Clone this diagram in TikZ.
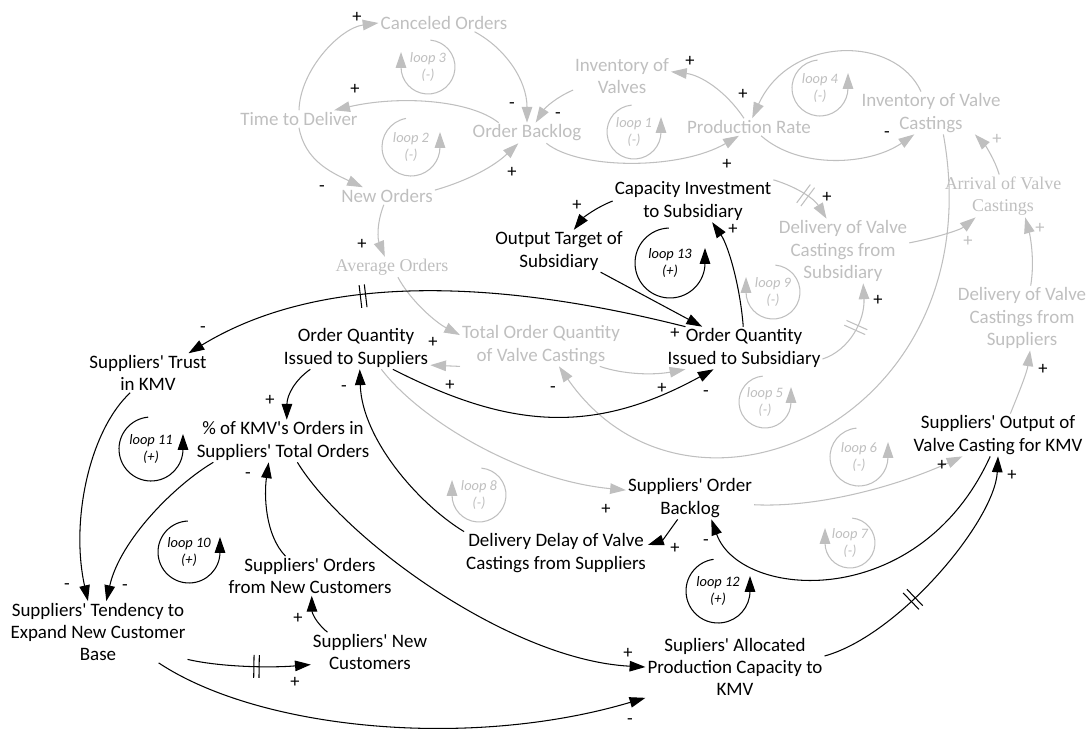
\documentclass[tikz,border=0pt]{standalone}
\usepackage{fontspec}
\usetikzlibrary{arrows.meta}
\newfontfamily\varfont{Carlito}[Ligatures=TeXOff]
\newfontfamily\serfont{Liberation Serif}[Ligatures=TeXOff]
\definecolor{cldgray}{RGB}{191,191,191}

\tikzset{
    var/.style={align=center, inner sep=1pt, font=\varfont\fontsize{10.8}{12.6}\selectfont},
    gvar/.style={var, text=cldgray},
    gsvar/.style={gvar, font=\serfont\fontsize{10.2}{12.6}\selectfont},
    sgn/.style={inner sep=0pt, font=\varfont\fontsize{10.5}{11}\selectfont},
    gsgn/.style={sgn, text=cldgray},
    looptxt/.style={align=center, inner sep=0pt, font=\varfont\itshape\fontsize{8.2}{9.5}\selectfont},
    glooptxt/.style={looptxt, text=cldgray},
    barrow/.style={draw=black, line width=0.6pt, -{Triangle[length=9pt,width=6pt]}},
    garrow/.style={barrow, draw=cldgray},
    %double bar on delayed links
    delaymark/.pic={\draw[-, line width=0.6pt] (-1.5pt,-6.5pt) -- (-1.5pt,6.5pt) (1.5pt,-6.5pt) -- (1.5pt,6.5pt);},
  }

\begin{document}
\begin{tikzpicture}[x=0.02cm, y=-0.02cm]
\useasboundingbox (0,0) rectangle (1091,729);

% plant side (grey)
  \node[gvar] (cancel) at (444,23) {Canceled Orders};
  \node[gvar] (ttd) at (299,119) {Time to Deliver};
  \node[gvar] (neworders) at (387,196) {New Orders};
  \node[gvar] (backlog) at (527,133) {Order Backlog};
  \node[gvar] (invvalves) at (622,76) {Inventory of\\Valves};
  \node[gvar] (prodrate) at (749,127) {Production Rate};
  \node[gvar] (invcast) at (931,113) {Inventory of Valve\\Castings};
  \node[gsvar] (arrival) at (1003,196) {Arrival of Valve\\Castings};
  \node[gvar] (delsub) at (843,251) {Delivery of Valve\\Castings from\\Subsidiary};
  \node[gvar] (delsup) at (1022,318) {Delivery of Valve\\Castings from\\Suppliers};
  \node[gsvar] (avgorders) at (392,267) {Average Orders};
  \node[gvar] (totalq) at (541,345) {Total Order Quantity\\of Valve Castings};

% subsidiary and suppliers (black)
  \node[var] (capinv) at (693,201) {Capacity Investment\\to Subsidiary};
  \node[var] (target) at (559,251) {Output Target of\\Subsidiary};
  \node[var] (oqsub) at (744,348) {Order Quantity\\Issued to Subsidiary};
  \node[var] (oqsup) at (356,348) {Order Quantity\\Issued to Suppliers};
  \node[var] (trust) at (148,373) {Suppliers' Trust\\in KMV};
  \node[var] (share) at (283,441) {\% of KMV's Orders in\\Suppliers' Total Orders};
  \node[var] (tendency) at (98,632) {Suppliers' Tendency to\\Expand New Customer\\Base};
  \node[var] (ordnew) at (310,576) {Suppliers' Orders\\from New Customers};
  \node[var] (newcust) at (370,652) {Suppliers' New\\Customers};
  \node[var] (delay) at (556,553) {Delivery Delay of Valve\\Castings from Suppliers};
  \node[var] (supbacklog) at (690,498) {Suppliers' Order\\Backlog};
  \node[var] (supout) at (998,435) {Suppliers' Output of\\Valve Casting for KMV};
  \node[var] (alloc) at (735,667) {Supliers' Allocated\\Production Capacity to\\KMV};

% grey links
  \draw[garrow] (ttd.north) .. controls (300,70) and (340,28) .. (cancel.west);
  \draw[garrow] (backlog.160) .. controls (470,100) and (400,95) .. (ttd.14);
  \draw[garrow] (ttd.south) .. controls (305,160) and (330,172) .. (neworders.160);
  \draw[garrow] (neworders.7) .. controls (460,183) and (490,170) .. (backlog.230);
  \draw[garrow] (cancel.-16) .. controls (505,48) and (527,80) .. (backlog.north);
  \draw[garrow] (invvalves.196) .. controls (555,98) and (545,108) .. (backlog.50);
  \draw[garrow] (backlog.-28) .. controls (580,170) and (680,170) .. (prodrate.221);
  \draw[garrow] (prodrate.120) .. controls (725,90) and (700,75) .. (invvalves.5);
  \draw[garrow] (invcast.115) .. controls (895,35) and (790,35) .. (prodrate.70);
  \draw[garrow] (prodrate.-36) .. controls (800,170) and (870,165) .. (invcast.232);
  \draw[garrow] (arrival.100) .. controls (995,160) and (985,145) .. (invcast.-26);
  \draw[garrow] (delsub.7) .. controls (935,238) and (960,230) .. (arrival.218);
  \draw[garrow] (delsup.75) .. controls (1035,260) and (1030,235) .. (arrival.-44);
  \draw[garrow] (capinv.north east) .. controls (800,188) and (815,200) .. (delsub.117) pic[pos=.5, sloped, cldgray]{delaymark};
  \draw[garrow] (oqsub.-8) .. controls (850,350) and (865,320) .. (delsub.-58) pic[pos=.55, sloped, cldgray]{delaymark};
  \draw[garrow] (neworders.250) .. controls (376,225) and (378,240) .. (avgorders.125);
  \draw[garrow] (avgorders.-60) .. controls (410,300) and (435,322) .. (totalq.173);
  \draw[garrow] (totalq.south west) -- (oqsup.-13);
  \draw[garrow] (totalq.-20) .. controls (625,375) and (655,375) .. (oqsub.200);
  \draw[garrow] (invcast.-60) .. controls (995,420) and (690,555) .. (totalq.-50);
  \draw[garrow] (supbacklog.-6) .. controls (820,508) and (900,485) .. (supout.211);
  \draw[garrow] (oqsup.-40) .. controls (420,420) and (520,480) .. (supbacklog.173);
  \draw[garrow] (supout.60) .. controls (1020,390) and (1027,372) .. (delsup.-76);

% black links
  \draw[barrow] (capinv.west) .. controls (595,208) and (583,218) .. (target.55);
  \draw[barrow] (target.-27) -- (oqsub.153);
  \draw[barrow] (oqsub.92) .. controls (740,285) and (728,245) .. (capinv.-48);
  \draw[barrow] (oqsub.160) .. controls (560,295) and (346,257) .. (trust.26) pic[pos=.66, sloped]{delaymark};
  \draw[barrow] (oqsup.205) .. controls (295,380) and (287,395) .. (share.80);
  \draw[barrow] (oqsup.-30) .. controls (508,428) and (592,436) .. (oqsub.215);
  \draw[barrow] (delay.north west) .. controls (420,505) and (362,440) .. (oqsup.-80);
  \draw[barrow] (supbacklog.240) .. controls (670,530) and (663,540) .. (delay.5);
  \draw[barrow] (supout.250) .. controls (919,613) and (740,600) .. (supbacklog.-45);
  \draw[barrow] (alloc.7) .. controls (900,635) and (995,520) .. (supout.south) pic[pos=.38, sloped]{delaymark};
  \draw[barrow] (share.-56) .. controls (345,540) and (510,660) .. (alloc.west);
  \draw[barrow] (tendency.-27) .. controls (260,730) and (470,750) .. (alloc.south west);
  \draw[barrow] (tendency.-17) .. controls (220,667) and (270,668) .. (newcust.192) pic[pos=.58, sloped]{delaymark};
  \draw[barrow] (newcust.155) .. controls (315,622) and (312,612) .. (ordnew.-85);
  \draw[barrow] (ordnew.141) .. controls (265,535) and (264,495) .. (share.236);
  \draw[barrow] (trust.228) .. controls (90,430) and (70,520) .. (tendency.108);
  \draw[barrow] (share.197) .. controls (175,485) and (120,540) .. (tendency.75);

% polarities
  \node[sgn] (s1) at (357,17) {+};
  \node[sgn] (s2) at (355,89) {+};
  \node[sgn] (s3) at (322,189) {-};
  \node[sgn] (s4) at (512,172) {+};
  \node[sgn] (s5) at (512,106) {-};
  \node[sgn] (s6) at (558,116) {-};
  \node[sgn] (s7) at (727,164) {+};
  \node[sgn] (s8) at (690,61) {+};
  \node[sgn] (s9) at (743,94) {+};
  \node[sgn] (s10) at (887,135) {-};
  \node[gsgn] (s11) at (997,139) {+};
  \node[gsgn] (s12) at (968,241) {+};
  \node[gsgn] (s13) at (1040,228) {+};
  \node[sgn] (s14) at (827,197) {+};
  \node[sgn] (s15) at (878,300) {+};
  \node[sgn] (s16) at (362,244) {+};
  \node[sgn] (s17) at (433,342) {+};
  \node[sgn] (s18) at (450,385) {+};
  \node[sgn] (s19) at (662,388) {+};
  \node[sgn] (s20) at (553,390) {-};
  \node[sgn] (s21) at (942,465) {+};
  \node[sgn] (s22) at (606,509) {+};
  \node[sgn] (s23) at (1043,369) {+};
  \node[sgn] (s24) at (577,205) {+};
  \node[sgn] (s25) at (675,333) {+};
  \node[sgn] (s26) at (733,229) {+};
  \node[sgn] (s27) at (203,330) {-};
  \node[sgn] (s28) at (270,400) {+};
  \node[sgn] (s29) at (706,394) {-};
  \node[sgn] (s30) at (344,389) {-};
  \node[sgn] (s31) at (675,548) {+};
  \node[sgn] (s32) at (706,543) {-};
  \node[sgn] (s33) at (1012,475) {+};
  \node[sgn] (s34) at (628,653) {+};
  \node[sgn] (s35) at (630,722) {-};
  \node[sgn] (s36) at (295,682) {+};
  \node[sgn] (s37) at (298,618) {+};
  \node[sgn] (s38) at (248,476) {-};
  \node[sgn] (s39) at (67,587) {-};
  \node[sgn] (s40) at (125,588) {-};

% loops
  \node[glooptxt] (loop1) at (634,132) {loop 1\\(-)};
  \draw[garrow] ([shift={(95:0.54cm)}]loop1.center) arc[start angle=95, end angle=360, radius=0.54cm] -- ++(0pt,0.3cm);
  \node[glooptxt] (loop2) at (411,147) {loop 2\\(-)};
  \draw[garrow] ([shift={(100:0.58cm)}]loop2.center) arc[start angle=100, end angle=360, radius=0.58cm] -- ++(0pt,0.3cm);
  \node[glooptxt] (loop3) at (428,67) {loop 3\\(-)};
  \draw[garrow] ([shift={(85:0.54cm)}]loop3.center) arc[start angle=85, end angle=-180, radius=0.54cm] -- ++(0pt,0.3cm);
  \node[glooptxt] (loop4) at (820,88) {loop 4\\(-)};
  \draw[garrow] ([shift={(95:0.56cm)}]loop4.center) arc[start angle=95, end angle=360, radius=0.56cm] -- ++(0pt,0.3cm);
  \node[glooptxt] (loop5) at (765,402) {loop 5\\(-)};
  \draw[garrow] ([shift={(95:0.52cm)}]loop5.center) arc[start angle=95, end angle=360, radius=0.52cm] -- ++(0pt,0.3cm);
  \node[glooptxt] (loop6) at (859,457) {loop 6\\(-)};
  \draw[garrow] ([shift={(95:0.58cm)}]loop6.center) arc[start angle=95, end angle=360, radius=0.58cm] -- ++(0pt,0.3cm);
  \node[glooptxt] (loop7) at (850,543) {loop 7\\(-)};
  \draw[garrow] ([shift={(85:0.5cm)}]loop7.center) arc[start angle=85, end angle=-180, radius=0.5cm] -- ++(0pt,0.3cm);
  \node[glooptxt] (loop8) at (479,495) {loop 8\\(-)};
  \draw[garrow] ([shift={(85:0.54cm)}]loop8.center) arc[start angle=85, end angle=-180, radius=0.54cm] -- ++(0pt,0.3cm);
  \node[glooptxt] (loop9) at (773,292) {loop 9\\(-)};
  \draw[garrow] ([shift={(85:0.54cm)}]loop9.center) arc[start angle=85, end angle=-180, radius=0.54cm] -- ++(0pt,0.3cm);
  \node[looptxt] (loop10) at (189,552) {loop 10\\(+)};
  \draw[barrow] ([shift={(92:0.62cm)}]loop10.center) arc[start angle=92, end angle=360, radius=0.62cm] -- ++(0pt,0.3cm);
  \node[looptxt] (loop11) at (151,449) {loop 11\\(+)};
  \draw[barrow] ([shift={(95:0.64cm)}]loop11.center) arc[start angle=95, end angle=360, radius=0.64cm] -- ++(0pt,0.3cm);
  \node[looptxt] (loop12) at (718,591) {loop 12\\(+)};
  \draw[barrow] ([shift={(98:0.64cm)}]loop12.center) arc[start angle=98, end angle=360, radius=0.64cm] -- ++(0pt,0.3cm);
  \node[looptxt] (loop13) at (670,263) {loop 13\\(+)};
  \draw[barrow] ([shift={(92:0.7cm)}]loop13.center) arc[start angle=92, end angle=360, radius=0.7cm] -- ++(0pt,0.3cm);

\end{tikzpicture}
\end{document}
